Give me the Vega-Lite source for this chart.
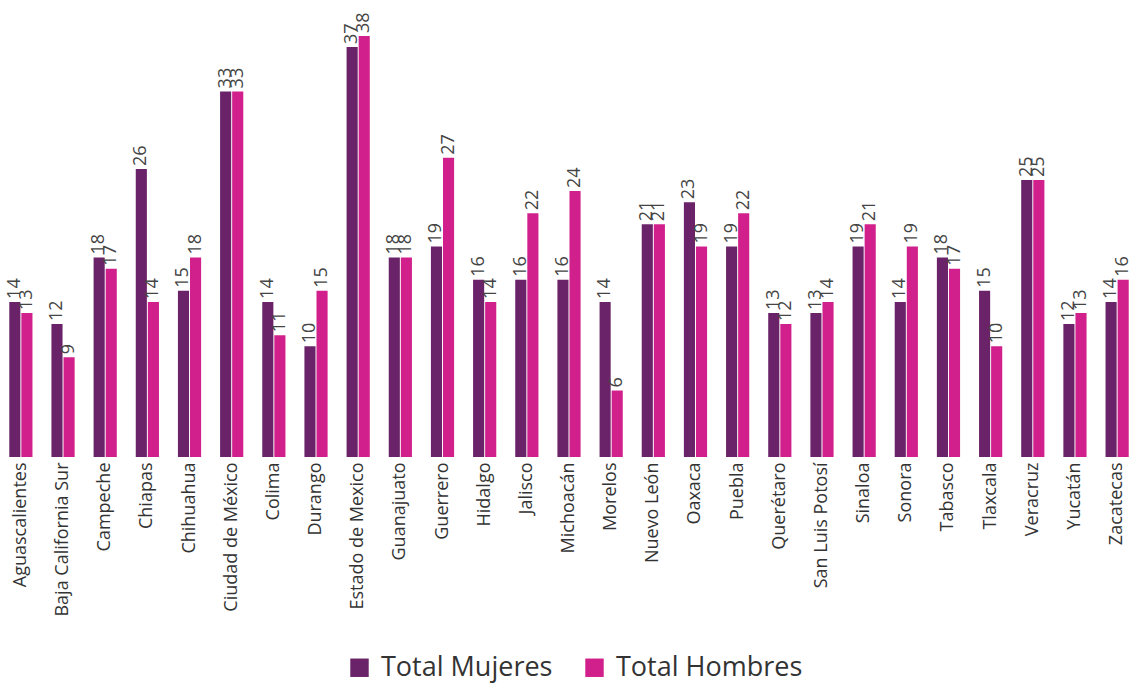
{
  "$schema": "https://vega.github.io/schema/vega-lite/v6.json",
  "width": 1138,
  "height": 457,
  "autosize": {"type": "none"},
  "padding": {"left": 0, "top": 0, "right": 0, "bottom": 228},
  "config": {"view": {"stroke": null}, "font": "Open Sans"},
  "data": {"values": [
    {"estado": "Aguascalientes", "serie": "Total Mujeres", "valor": 14},
    {"estado": "Aguascalientes", "serie": "Total Hombres", "valor": 13},
    {"estado": "Baja California Sur", "serie": "Total Mujeres", "valor": 12},
    {"estado": "Baja California Sur", "serie": "Total Hombres", "valor": 9},
    {"estado": "Campeche", "serie": "Total Mujeres", "valor": 18},
    {"estado": "Campeche", "serie": "Total Hombres", "valor": 17},
    {"estado": "Chiapas", "serie": "Total Mujeres", "valor": 26},
    {"estado": "Chiapas", "serie": "Total Hombres", "valor": 14},
    {"estado": "Chihuahua", "serie": "Total Mujeres", "valor": 15},
    {"estado": "Chihuahua", "serie": "Total Hombres", "valor": 18},
    {"estado": "Ciudad de México", "serie": "Total Mujeres", "valor": 33},
    {"estado": "Ciudad de México", "serie": "Total Hombres", "valor": 33},
    {"estado": "Colima", "serie": "Total Mujeres", "valor": 14},
    {"estado": "Colima", "serie": "Total Hombres", "valor": 11},
    {"estado": "Durango", "serie": "Total Mujeres", "valor": 10},
    {"estado": "Durango", "serie": "Total Hombres", "valor": 15},
    {"estado": "Estado de Mexico", "serie": "Total Mujeres", "valor": 37},
    {"estado": "Estado de Mexico", "serie": "Total Hombres", "valor": 38},
    {"estado": "Guanajuato", "serie": "Total Mujeres", "valor": 18},
    {"estado": "Guanajuato", "serie": "Total Hombres", "valor": 18},
    {"estado": "Guerrero", "serie": "Total Mujeres", "valor": 19},
    {"estado": "Guerrero", "serie": "Total Hombres", "valor": 27},
    {"estado": "Hidalgo", "serie": "Total Mujeres", "valor": 16},
    {"estado": "Hidalgo", "serie": "Total Hombres", "valor": 14},
    {"estado": "Jalisco", "serie": "Total Mujeres", "valor": 16},
    {"estado": "Jalisco", "serie": "Total Hombres", "valor": 22},
    {"estado": "Michoacán", "serie": "Total Mujeres", "valor": 16},
    {"estado": "Michoacán", "serie": "Total Hombres", "valor": 24},
    {"estado": "Morelos", "serie": "Total Mujeres", "valor": 14},
    {"estado": "Morelos", "serie": "Total Hombres", "valor": 6},
    {"estado": "Nuevo León", "serie": "Total Mujeres", "valor": 21},
    {"estado": "Nuevo León", "serie": "Total Hombres", "valor": 21},
    {"estado": "Oaxaca", "serie": "Total Mujeres", "valor": 23},
    {"estado": "Oaxaca", "serie": "Total Hombres", "valor": 19},
    {"estado": "Puebla", "serie": "Total Mujeres", "valor": 19},
    {"estado": "Puebla", "serie": "Total Hombres", "valor": 22},
    {"estado": "Querétaro", "serie": "Total Mujeres", "valor": 13},
    {"estado": "Querétaro", "serie": "Total Hombres", "valor": 12},
    {"estado": "San Luis Potosí", "serie": "Total Mujeres", "valor": 13},
    {"estado": "San Luis Potosí", "serie": "Total Hombres", "valor": 14},
    {"estado": "Sinaloa", "serie": "Total Mujeres", "valor": 19},
    {"estado": "Sinaloa", "serie": "Total Hombres", "valor": 21},
    {"estado": "Sonora", "serie": "Total Mujeres", "valor": 14},
    {"estado": "Sonora", "serie": "Total Hombres", "valor": 19},
    {"estado": "Tabasco", "serie": "Total Mujeres", "valor": 18},
    {"estado": "Tabasco", "serie": "Total Hombres", "valor": 17},
    {"estado": "Tlaxcala", "serie": "Total Mujeres", "valor": 15},
    {"estado": "Tlaxcala", "serie": "Total Hombres", "valor": 10},
    {"estado": "Veracruz", "serie": "Total Mujeres", "valor": 25},
    {"estado": "Veracruz", "serie": "Total Hombres", "valor": 25},
    {"estado": "Yucatán", "serie": "Total Mujeres", "valor": 12},
    {"estado": "Yucatán", "serie": "Total Hombres", "valor": 13},
    {"estado": "Zacatecas", "serie": "Total Mujeres", "valor": 14},
    {"estado": "Zacatecas", "serie": "Total Hombres", "valor": 16}
  ]},
  "encoding": {
    "x": {
      "field": "estado", "type": "nominal", "sort": null,
      "scale": {"paddingInner": 0.45, "paddingOuter": 0.22},
      "axis": {"title": null, "labelAngle": -90, "ticks": false, "domain": false, "labelFontSize": 18, "labelColor": "#333333", "labelPadding": 5, "labelAlign": "right", "labelBaseline": "middle", "labelFont": "Open Sans"}
    },
    "xOffset": {"field": "serie", "type": "nominal", "sort": ["Total Mujeres", "Total Hombres"], "scale": {"paddingInner": 0.08}},
    "y": {"field": "valor", "type": "quantitative", "scale": {"domain": [0, 41.25], "nice": false}, "axis": null}
  },
  "layer": [
    {
      "mark": {"type": "bar"},
      "encoding": {
        "color": {
          "field": "serie", "type": "nominal",
          "scale": {"domain": ["Total Mujeres", "Total Hombres"], "range": ["#6a2368", "#d1208b"]},
          "legend": {"title": null, "orient": "none", "legendX": 346, "legendY": 654, "direction": "horizontal", "symbolType": "square", "symbolSize": 340, "symbolOpacity": 1, "symbolStrokeWidth": 0, "labelFontSize": 27, "labelLimit": 400, "labelColor": "#333333", "labelOffset": 8, "columnPadding": 28, "labelFont": "Open Sans"}
        }
      }
    },
    {
      "mark": {"type": "text", "angle": -90, "align": "left", "baseline": "middle", "dx": 3, "fontSize": 18, "color": "#444444", "font": "Open Sans"},
      "encoding": {"text": {"field": "valor", "type": "quantitative"}}
    }
  ]
}
